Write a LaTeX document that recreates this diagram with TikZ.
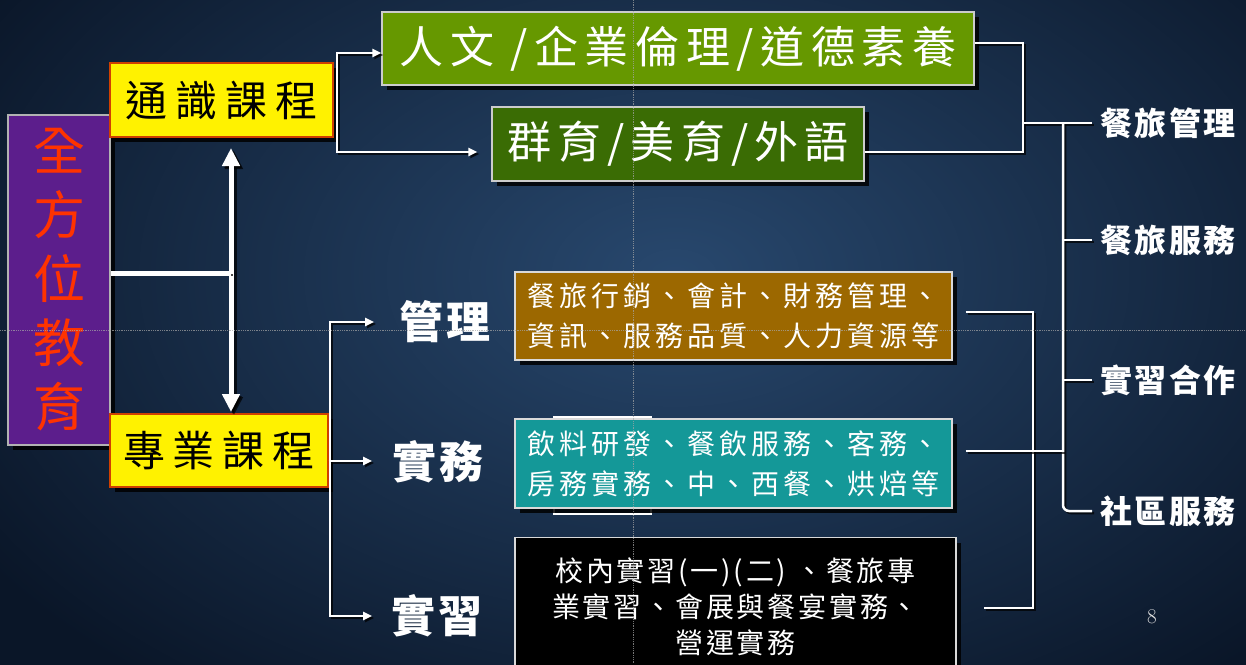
\documentclass[tikz,border=0pt]{standalone}
\usepackage{fontspec}
\usetikzlibrary{calc,shadows,arrows.meta}
\newfontfamily\cjk{Noto Sans CJK TC}
\definecolor{bgin}{RGB}{40,72,110}
\definecolor{bgout}{RGB}{10,22,40}
\definecolor{purpleC}{RGB}{92,30,140}
\definecolor{redC}{RGB}{255,51,0}
\definecolor{borderRed}{RGB}{208,64,0}
\definecolor{greenA}{RGB}{102,152,0}
\definecolor{greenB}{RGB}{58,108,4}
\definecolor{brownC}{RGB}{156,104,0}
\definecolor{tealC}{RGB}{20,152,152}
\begin{document}
\begin{tikzpicture}[x=1pt,y=-1pt,
  box/.style={draw, line width=1.2pt, inner sep=0pt, align=center,
    drop shadow={shadow xshift=5pt,shadow yshift=-5pt,fill=black,opacity=0.85}},
  conn/.style={draw=white, line width=2.5pt,
    preaction={draw=black, opacity=0.7, line width=2.5pt, transform canvas={xshift=2pt,yshift=-2pt}}},
  tipS/.style={-{Triangle[length=9pt,width=8pt]}},
  tipB/.style={{Triangle[length=9pt,width=8pt]}-{Triangle[length=9pt,width=8pt]}},
  lbl/.style={text=white, inner sep=0pt, font=\cjk\bfseries\fontsize{32}{36}\selectfont\addfontfeature{LetterSpace=8}},
  sub/.style={text=white, inner sep=0pt, font=\cjk\bfseries\fontsize{44}{50}\selectfont\addfontfeature{LetterSpace=8}},
  guide/.style={draw=gray!70, line width=0.8pt, densely dotted, opacity=0.7}
]
\useasboundingbox (0,0) rectangle (1246,664);
\clip (0,0) rectangle (1246,664);
\shade[inner color=bgin, outer color=bgout] (-150,-250) rectangle (1500,800);

% left column
\node[box, fill=purpleC, draw=gray!60, minimum width=102pt, minimum height=330pt,
  text=redC, font=\cjk\fontsize{52}{64}\selectfont] (qfw) at (59,280) {全\\方\\位\\教\\育};
\node[box, fill=yellow, draw=borderRed, minimum width=223pt, minimum height=74pt,
  font=\cjk\fontsize{42}{50}\selectfont\addfontfeature{LetterSpace=19}] (tongshi) at (221.5,100) {通識課程};
\node[box, fill=yellow, draw=borderRed, minimum width=218pt, minimum height=73pt,
  font=\cjk\fontsize{42}{50}\selectfont\addfontfeature{LetterSpace=19}] (zhuanye) at (219,450.5) {專業課程};

\coordinate (da1) at (231,148);
\coordinate (da2) at (231,412);
\coordinate (dam) at (231,273);
\draw[conn, line width=5pt, preaction={draw=black, opacity=0.7, line width=5pt, transform canvas={xshift=3pt,yshift=-3pt}},
  {Triangle[length=18pt,width=17pt]}-{Triangle[length=18pt,width=17pt]}] (da1) -- (da2);
\draw[conn, line width=5pt] (qfw.east |- dam) -- (dam);

% general education boxes
\node[box, fill=greenA, draw=gray!40, minimum width=592pt, minimum height=73pt, text=white,
  font=\cjk\fontsize{44}{50}\selectfont\addfontfeature{LetterSpace=15}] (renwen) at (678,48.5) {人文 /企業倫理/道德素養};
\node[box, fill=greenB, draw=gray!40, minimum width=372pt, minimum height=74pt, text=white,
  font=\cjk\fontsize{44}{50}\selectfont\addfontfeature{LetterSpace=14}] (qunyu) at (678,144) {群育/美育/外語};

\draw[conn, tipB] ($(renwen.west)+(0,4.5)$) -| (337,100) |- ($(qunyu.west)+(-14,8)$);

% right labels
\node[lbl, anchor=west] (l1) at (1100,123) {餐旅管理};
\node[lbl, anchor=west] (l2) at (1100,240) {餐旅服務};
\node[lbl, anchor=west] (l3) at (1100,380) {實習合作};
\node[lbl, anchor=west] (l4) at (1100,511) {社區服務};

\draw[conn] ($(renwen.east)+(0,-5.5)$) -| (1023,100) |- ($(qunyu.east)+(0,8)$);
\draw[conn] (1023,123) -- ($(l1.west)+(-8,0)$);
\draw[conn, rounded corners=6pt] (1063,123) |- ($(l4.west)+(-8,0)$);
\draw[conn] (1063,240) -- ($(l2.west)+(-8,0)$);
\draw[conn] (1063,380) -- ($(l3.west)+(-8,0)$);

% professional boxes
\draw[white, line width=1.5pt] (554,417) rectangle (651,514);
\node[box, fill=brownC, draw=gray!30, minimum width=437pt, minimum height=88pt, text=white,
  font=\cjk\fontsize{28}{40}\selectfont\addfontfeature{LetterSpace=14}] (guanli) at (733.5,316)
  {餐旅行銷、會計、財務管理、\\資訊、服務品質、人力資源等};
\node[box, fill=tealC, draw=gray!30, minimum width=437pt, minimum height=89pt, text=white,
  font=\cjk\fontsize{28}{40}\selectfont\addfontfeature{LetterSpace=14}] (shiwu) at (733.5,463.5)
  {飲料研發、餐飲服務、客務、\\房務實務、中、西餐、烘焙等};
\node[box, fill=black, draw=gray!30, minimum width=441pt, minimum height=139pt, text=white,
  font=\cjk\fontsize{28}{36}\selectfont\addfontfeature{LetterSpace=10}] (shixi) at (735.5,607)
  {校內實習(一)(二) 、餐旅專\\業實習、會展與餐宴實務、\\營運實務};

\draw[conn] ($(guanli.east)+(13,-4)$) -| (1033,450) |- ($(shixi.east)+(27,1)$);
\draw[conn] ($(shiwu.east)+(13,-12.5)$) -- (1063,451);

% sub labels
\node[sub] (gl) at (445,322) {管理};
\node[sub] (sw) at (438,462) {實務};
\node[sub] (sx) at (437,616) {實習};

\draw[conn, tipB] ($(gl.west)+(-25,0)$) -| (330,461) |- ($(sx.west)+(-19,0)$);
\draw[conn, tipS] ($(zhuanye.east)+(0,10.5)$) -- ($(sw.west)+(-20,-1)$);

\node[text=gray!25, font=\fontsize{21}{24}\selectfont] (pg) at (1152,617) {8};

% guide lines
\draw[guide] (0,330) -- (1246,330);
\draw[guide] (633,0) -- (633,664);
\end{tikzpicture}
\end{document}
